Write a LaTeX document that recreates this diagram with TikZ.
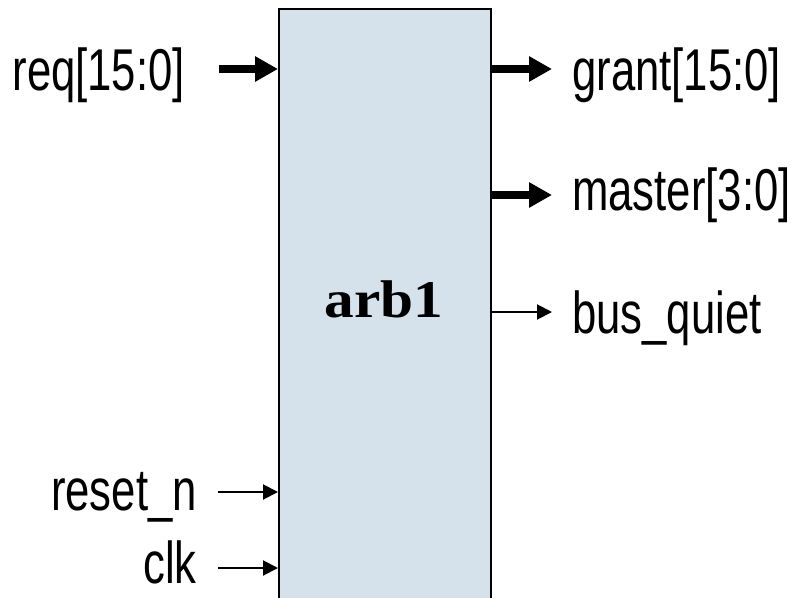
\documentclass[tikz,border=0pt]{standalone}
\usepackage{fontspec}
\usepackage{graphicx}
\setmainfont{Liberation Sans}
\newfontfamily\blockfont{Liberation Serif}
\usetikzlibrary{arrows.meta}
\definecolor{boxfill}{HTML}{D5E2EB}
\tikzset{
  lbl/.style={inner sep=0pt, font=\fontsize{59}{62}\selectfont},
  busarrow/.style={line width=8pt, -{Triangle[length=23pt,width=24pt]}},
  sigarrow/.style={line width=2pt, -{Triangle[length=15pt,width=15pt]}},
  blockbox/.style={draw=black, line width=2pt, fill=boxfill, rectangle, inner sep=0pt, minimum width=212pt, minimum height=620pt, anchor=north}
}
\newcommand{\narrow}[1]{\scalebox{0.74}[1]{#1}}
\begin{document}
\begin{tikzpicture}[x=1pt,y=-1pt]
\useasboundingbox (0,0) rectangle (792,597);
\clip (0,0) rectangle (792,597);
\node[blockbox] (blk) at (385,8) {};
\node[inner sep=0pt, anchor=base, font=\blockfont\bfseries\fontsize{53}{56}\selectfont] (name) at (384,317) {\scalebox{1.12}[1]{arb1}};
% inputs
\node[lbl, anchor=base east] (req) at (185,90) {\narrow{req[15:0]}};
\node[lbl, anchor=base east] (rst) at (197,510) {\narrow{reset\_n}};
\node[lbl, anchor=base east] (clk) at (197,583) {\narrow{clk}};
% outputs
\node[lbl, anchor=base west] (grant) at (572,90) {\narrow{grant[15:0]}};
\node[lbl, anchor=base west] (master) at (572,210) {\narrow{master[3:0]}};
\node[lbl, anchor=base west] (quiet) at (572,333) {\narrow{bus\_quiet}};
% connector ends
\coordinate (reqs) at (219,69);
\coordinate (rsts) at (218,492);
\coordinate (clks) at (218,568);
\coordinate (grante) at (552,69);
\coordinate (mastere) at (552,195);
\coordinate (quiete) at (552,312);
\draw[busarrow] (reqs) -- (reqs -| blk.west);
\draw[sigarrow] (rsts) -- (rsts -| blk.west);
\draw[sigarrow] (clks) -- (clks -| blk.west);
\draw[busarrow] (grante -| blk.east) -- (grante);
\draw[busarrow] (mastere -| blk.east) -- (mastere);
\draw[sigarrow] (quiete -| blk.east) -- (quiete);
\end{tikzpicture}
\end{document}
